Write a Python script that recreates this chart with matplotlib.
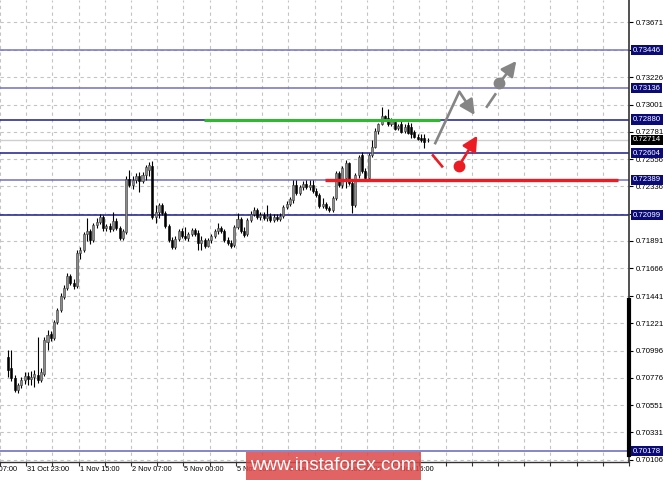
import matplotlib
matplotlib.use("Agg")
import matplotlib.pyplot as plt
import matplotlib.transforms as mtransforms
from matplotlib.patches import Rectangle

plt.rcParams['font.family'] = ['Liberation Sans', 'DejaVu Sans']

# H1 candles
opens = [
    0.70944, 0.70855, 0.70773, 0.70676, 0.70716, 0.70757, 0.70790, 0.70765, 0.70781, 0.70798,
    0.70757, 0.70806, 0.71067, 0.71132, 0.71099, 0.71230, 0.71328, 0.71433, 0.71507, 0.71605,
    0.71547, 0.71523, 0.71792, 0.71816, 0.71947, 0.71971, 0.71898, 0.72020, 0.72045, 0.72085,
    0.71996, 0.72012, 0.71988, 0.72053, 0.71996, 0.71914, 0.71963, 0.72395, 0.72346, 0.72387,
    0.72420, 0.72379, 0.72428, 0.72469, 0.72501, 0.72085, 0.72126, 0.72183, 0.72118, 0.72012,
    0.71898, 0.71841, 0.71906, 0.71971, 0.71930, 0.71914, 0.71947, 0.71979, 0.71955, 0.71873,
    0.71898, 0.71849, 0.71898, 0.71930, 0.71971, 0.71996, 0.71971, 0.71898, 0.71873, 0.71857,
    0.72004, 0.72069, 0.71971, 0.71947, 0.72061, 0.72110, 0.72143, 0.72085, 0.72102, 0.72077,
    0.72094, 0.72061, 0.72085, 0.72069, 0.72094, 0.72167, 0.72191, 0.72224, 0.72346, 0.72281,
    0.72330, 0.72354, 0.72330, 0.72346, 0.72297, 0.72265, 0.72175, 0.72191, 0.72159, 0.72143,
    0.72240, 0.72444, 0.72346, 0.72403, 0.72526, 0.72363, 0.72183, 0.72428, 0.72591, 0.72460,
    0.72403, 0.72591, 0.72656, 0.72786, 0.72843, 0.72909, 0.72892, 0.72843, 0.72860, 0.72811,
    0.72843, 0.72786, 0.72835, 0.72819, 0.72778, 0.72737, 0.72729, 0.72729, 0.72713,
]
highs = [
    0.71001, 0.71001, 0.70798, 0.70733, 0.70781, 0.70822, 0.70822, 0.70830, 0.70838, 0.71108,
    0.70855, 0.71108, 0.71165, 0.71157, 0.71246, 0.71344, 0.71466, 0.71531, 0.71629, 0.71621,
    0.71580, 0.71816, 0.71841, 0.71963, 0.72077, 0.71988, 0.72036, 0.72077, 0.72110, 0.72102,
    0.72028, 0.72036, 0.72126, 0.72077, 0.72012, 0.71988, 0.72420, 0.72469, 0.72420, 0.72444,
    0.72452, 0.72452, 0.72509, 0.72534, 0.72542, 0.72183, 0.72199, 0.72199, 0.72134, 0.72028,
    0.71922, 0.71930, 0.71988, 0.71996, 0.72004, 0.71963, 0.71996, 0.71996, 0.71979, 0.71930,
    0.71914, 0.71914, 0.71947, 0.71988, 0.72036, 0.72012, 0.71988, 0.71922, 0.71898, 0.72020,
    0.72118, 0.72085, 0.72004, 0.72077, 0.72134, 0.72167, 0.72159, 0.72126, 0.72126, 0.72183,
    0.72118, 0.72110, 0.72110, 0.72118, 0.72183, 0.72216, 0.72248, 0.72387, 0.72387, 0.72346,
    0.72379, 0.72387, 0.72387, 0.72387, 0.72322, 0.72281, 0.72240, 0.72208, 0.72175, 0.72257,
    0.72460, 0.72460, 0.72501, 0.72550, 0.72534, 0.72379, 0.72444, 0.72591, 0.72615, 0.72485,
    0.72607, 0.72713, 0.72811, 0.72852, 0.72982, 0.72917, 0.72966, 0.72892, 0.72884, 0.72843,
    0.72876, 0.72843, 0.72860, 0.72852, 0.72795, 0.72762, 0.72762, 0.72762, 0.72729,
]
lows = [
    0.70781, 0.70749, 0.70659, 0.70651, 0.70692, 0.70724, 0.70716, 0.70716, 0.70700, 0.70733,
    0.70741, 0.70790, 0.71001, 0.71075, 0.71083, 0.71213, 0.71311, 0.71417, 0.71490, 0.71531,
    0.71499, 0.71507, 0.71743, 0.71800, 0.71890, 0.71865, 0.71881, 0.71996, 0.72028, 0.71971,
    0.71971, 0.71963, 0.71971, 0.71979, 0.71898, 0.71898, 0.71947, 0.72330, 0.72314, 0.72363,
    0.72289, 0.72363, 0.72387, 0.72420, 0.72069, 0.72036, 0.72077, 0.72102, 0.71996, 0.71881,
    0.71824, 0.71824, 0.71890, 0.71914, 0.71898, 0.71890, 0.71930, 0.71930, 0.71816, 0.71816,
    0.71833, 0.71841, 0.71873, 0.71914, 0.71947, 0.71955, 0.71881, 0.71857, 0.71833, 0.71841,
    0.71988, 0.71955, 0.71922, 0.71930, 0.72045, 0.72094, 0.72069, 0.72061, 0.72061, 0.72053,
    0.72045, 0.72045, 0.72053, 0.72053, 0.72077, 0.72151, 0.72175, 0.72199, 0.72265, 0.72265,
    0.72306, 0.72314, 0.72306, 0.72281, 0.72248, 0.72159, 0.72159, 0.72143, 0.72126, 0.72126,
    0.72224, 0.72330, 0.72322, 0.72322, 0.72346, 0.72118, 0.72167, 0.72403, 0.72444, 0.72395,
    0.72387, 0.72574, 0.72648, 0.72762, 0.72835, 0.72868, 0.72827, 0.72827, 0.72795, 0.72795,
    0.72770, 0.72770, 0.72762, 0.72729, 0.72729, 0.72713, 0.72697, 0.72648, 0.72697,
]
closes = [
    0.70838, 0.70773, 0.70676, 0.70716, 0.70757, 0.70790, 0.70765, 0.70781, 0.70806, 0.70757,
    0.70822, 0.71083, 0.71124, 0.71099, 0.71230, 0.71328, 0.71442, 0.71507, 0.71605, 0.71547,
    0.71523, 0.71792, 0.71816, 0.71947, 0.71971, 0.71898, 0.72020, 0.72045, 0.72085, 0.71996,
    0.72012, 0.71988, 0.72053, 0.71996, 0.71914, 0.71971, 0.72395, 0.72346, 0.72387, 0.72420,
    0.72379, 0.72428, 0.72493, 0.72509, 0.72085, 0.72126, 0.72183, 0.72118, 0.72012, 0.71898,
    0.71841, 0.71906, 0.71971, 0.71930, 0.71914, 0.71947, 0.71979, 0.71947, 0.71873, 0.71898,
    0.71849, 0.71898, 0.71930, 0.71971, 0.71996, 0.71971, 0.71898, 0.71873, 0.71849, 0.72004,
    0.72069, 0.71971, 0.71939, 0.72061, 0.72110, 0.72143, 0.72085, 0.72102, 0.72077, 0.72094,
    0.72061, 0.72085, 0.72069, 0.72094, 0.72167, 0.72191, 0.72232, 0.72346, 0.72281, 0.72330,
    0.72354, 0.72330, 0.72346, 0.72297, 0.72265, 0.72175, 0.72191, 0.72159, 0.72143, 0.72240,
    0.72444, 0.72346, 0.72485, 0.72526, 0.72363, 0.72183, 0.72428, 0.72574, 0.72460, 0.72403,
    0.72591, 0.72656, 0.72786, 0.72843, 0.72909, 0.72884, 0.72843, 0.72868, 0.72803, 0.72827,
    0.72778, 0.72819, 0.72770, 0.72762, 0.72737, 0.72721, 0.72713, 0.72697, 0.72714,
]

price_ticks = [0.73671, 0.73446, 0.73226, 0.73001, 0.72781, 0.72556, 0.72336, 0.72111,
               0.71891, 0.71666, 0.71441, 0.71221, 0.70996, 0.70776, 0.70551, 0.70331, 0.70106]
hidden_ticks = [0.73446, 0.72111]

levels = [0.73446, 0.73136, 0.72880, 0.72604, 0.72389, 0.72099, 0.70178]
level_colors = ['#7474c6', '#7070c4', '#1c1c8a', '#1c1c8a', '#7070c4', '#1c1c8a', '#6464bc']
last_price = 0.72714

date_pos = [-10.5, 5.5, 21.5, 37.5, 53.5, 69.5, 85.5, 101.5, 117.5]
date_labels = ['31 Oct 07:00', '31 Oct 23:00', '1 Nov 15:00', '2 Nov 07:00', '5 Nov 00:00',
               '5 Nov 16:00', '6 Nov 08:00', '7 Nov 00:00', '7 Nov 16:00']

# analyst's marks (bar index, price)
green_x, green_y = [59.7, 131.9], 0.72880
red_x, red_y = [96.7, 186.0], 0.72389
gray_zig_x = [130.2, 137.7]
gray_zig_y = [0.72678, 0.73107]
gray_tip = (142.4, 0.72917)
gray_dash_x = [145.9, 148.9]
gray_dash_y = [0.72976, 0.73094]
gray_dot = (149.9, 0.73175)
gray_tip2 = (155.1, 0.73357)
red_dash_x = [129.4, 132.7]
red_dash_y = [0.72596, 0.72490]
red_dot = (137.6, 0.72501)
red_tip = (143.2, 0.72748)

W, H = 665, 480
fig = plt.figure(figsize=(W / 100, H / 100), dpi=100)
ax = fig.add_axes([0, 1 - 462 / H, 629 / W, 462 / H])
ax.set_xlim(-0.45, 188.7)
ax.set_ylim(0.70089, 0.73854)

# grid
grid_pos = [5.5 + 8 * m for m in range(-1, 24)]
ax.set_xticks(grid_pos)
ax.set_xticklabels([])
ax.set_yticks(price_ticks)
ax.set_yticklabels(['' if v in hidden_ticks else '%.5f' % v for v in price_ticks])
ax.set_axisbelow(True)
ax.grid(True, color='#c4c4c4', linestyle=(0, (3, 3)), linewidth=0.8)

ax.yaxis.tick_right()
ax.tick_params(axis='y', direction='out', length=3, width=0.8, pad=2, labelsize=5.6, colors='black')
ax.tick_params(axis='x', direction='out', length=3, width=0.8, colors='#333333')
for s in ['top', 'left']:
    ax.spines[s].set_visible(False)
ax.spines['right'].set_color('#333333')
ax.spines['right'].set_linewidth(1.2)
ax.spines['bottom'].set_color('#333333')
ax.spines['bottom'].set_linewidth(1.0)
ax.plot([1, 1], [0.015, 0.35], transform=ax.transAxes, color='black', lw=3, clip_on=False, zorder=6)

# level lines
for lv, col in zip(levels, level_colors):
    ax.axhline(lv, color=col, lw=1.1, zorder=1)
ax.axhline(last_price, color='#cfcfcf', lw=1.0, zorder=1)

# candles
xs = list(range(len(closes)))
ax.vlines(xs, lows, highs, color='black', lw=0.8, zorder=3)
for i in xs:
    o, c = opens[i], closes[i]
    bull = c >= o
    ax.bar(i, max(abs(c - o), 0.00003), bottom=min(o, c), width=0.62,
           color='#8c8c8c' if bull else 'black', edgecolor='#3a3a3a' if bull else 'black',
           linewidth=0.4, zorder=4)

# marks
ax.plot(green_x, [green_y, green_y], color='#2fb92f', lw=2.2, zorder=5, solid_capstyle='butt')
ax.plot(red_x, [red_y, red_y], color='#ec1c24', lw=2.4, zorder=5, solid_capstyle='butt')

gray = '#858585'
head = '-|>,head_length=0.75,head_width=0.38'
ax.plot(gray_zig_x, gray_zig_y, color=gray, lw=1.9, zorder=6, solid_capstyle='butt')
ax.annotate('', xy=gray_tip, xytext=(gray_zig_x[-1], gray_zig_y[-1]),
            arrowprops=dict(arrowstyle=head, color=gray, lw=1.9, mutation_scale=12,
                            shrinkA=0, shrinkB=0), zorder=6)
ax.plot(gray_dash_x, gray_dash_y, color=gray, lw=1.9, zorder=6, solid_capstyle='butt')
ax.plot(*gray_dot, 'o', color=gray, ms=7.5, zorder=6)
ax.annotate('', xy=gray_tip2, xytext=gray_dot,
            arrowprops=dict(arrowstyle=head, color=gray, lw=1.9, mutation_scale=12,
                            shrinkA=0, shrinkB=0), zorder=6)

red = '#ec1c24'
ax.plot(red_dash_x, red_dash_y, color=red, lw=1.9, zorder=6, solid_capstyle='butt')
ax.plot(*red_dot, 'o', color=red, ms=7.5, zorder=6)
ax.annotate('', xy=red_tip, xytext=red_dot,
            arrowprops=dict(arrowstyle=head, color=red, lw=1.9, mutation_scale=12,
                            shrinkA=0, shrinkB=0), zorder=6)

# right side level boxes
tr = mtransforms.blended_transform_factory(ax.transAxes, ax.transData)
for lv in levels:
    ax.text(1 + 4 / 629, lv, '%.5f' % lv, transform=tr, ha='left', va='center', fontsize=5.6,
            color='white', clip_on=False, zorder=10,
            bbox=dict(boxstyle='square,pad=0.2', fc='#0b0b78', ec='none'))
ax.text(1 + 4 / 629, last_price, '%.5f' % last_price, transform=tr, ha='left', va='center',
        fontsize=5.6, color='white', clip_on=False, zorder=10,
        bbox=dict(boxstyle='square,pad=0.2', fc='black', ec='none'))

# date labels
trx = mtransforms.blended_transform_factory(ax.transData, ax.transAxes)
for p, lab in zip(date_pos, date_labels):
    ax.text(p + 0.3, -0.008, lab, transform=trx, ha='left', va='top', fontsize=5.3,
            color='black', clip_on=False)

# watermark
fig.patches.append(Rectangle((246 / W, 0), 175 / W, 28 / H, transform=fig.transFigure,
                             facecolor='#dc4848', alpha=0.85, edgecolor='none', zorder=20))
fig.text(333 / W, 14 / H, 'www.instaforex.com', ha='center', va='center', fontsize=13.5,
         color='white', zorder=21)

fig.savefig('out.png', dpi=100)
